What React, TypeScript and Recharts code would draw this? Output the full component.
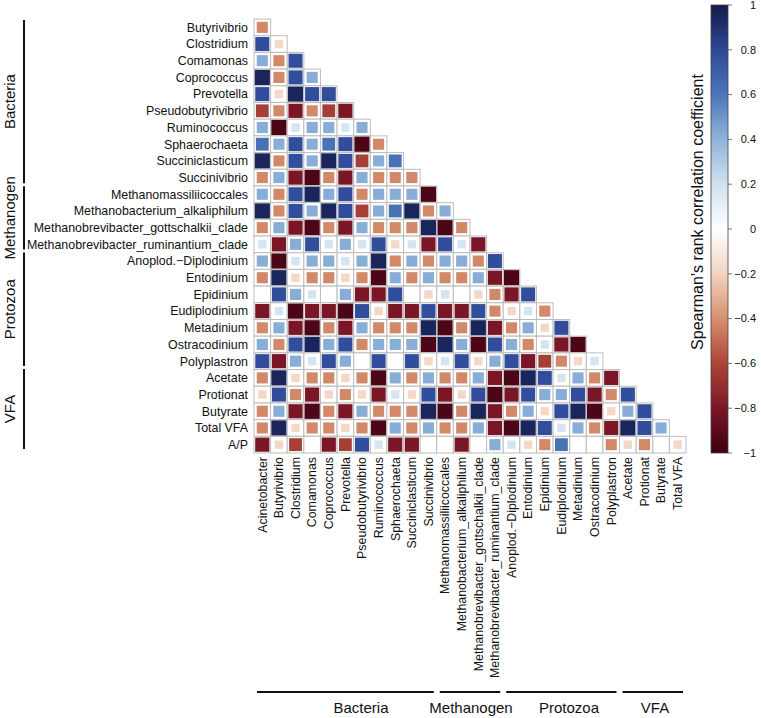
import { ScatterChart, Scatter, XAxis, YAxis } from "recharts"

const W = 761
const H = 718
const PLOT_LEFT = 254
const PLOT_RIGHT = 686
const PLOT_TOP = 19
const PLOT_BOTTOM = 453
const FONT = '"Liberation Sans", Arial, Helvetica, sans-serif'

// variables in matrix order (columns use 0..25, rows use 1..26)
const variables = [
  "Acinetobacter", "Butyrivibrio", "Clostridium", "Comamonas", "Coprococcus", "Prevotella",
  "Pseudobutyrivibrio", "Ruminococcus", "Sphaerochaeta", "Succiniclasticum", "Succinivibrio",
  "Methanomassiliicoccales", "Methanobacterium_alkaliphilum", "Methanobrevibacter_gottschalkii_clade",
  "Methanobrevibacter_ruminantium_clade", "Anoplod.\u2212Diplodinium", "Entodinium", "Epidinium",
  "Eudiplodinium", "Metadinium", "Ostracodinium", "Polyplastron", "Acetate", "Protionat",
  "Butyrate", "Total VFA", "A/P",
]

// lower triangle, one array per row (values against the columns to its left)
const rButyrivibrio = [-0.42]
const rClostridium = [0.78, -0.18]
const rComamonas = [0.42, -0.42, 0.78]
const rCoprococcus = [0.95, -0.42, 0.78, 0.42]
const rPrevotella = [0.78, -0.18, 0.95, 0.78, 0.78]
const rPseudobutyrivibrio = [-0.62, -0.42, -0.8, -0.42, -0.62, -0.8]
const rRuminococcus = [0.42, -0.95, 0.18, 0.42, 0.42, 0.18, 0.42]
const rSphaerochaeta = [0.62, 0.42, 0.78, 0.42, 0.62, 0.78, -0.95, -0.42]
const rSucciniclasticum = [0.95, -0.42, 0.78, 0.42, 0.95, 0.78, -0.62, 0.42, 0.62]
const rSuccinivibrio = [-0.42, 0.42, -0.8, -0.95, -0.42, -0.8, 0.42, -0.42, -0.42, -0.42]
const rMethanomass = [0.42, -0.42, 0.78, 0.95, 0.42, 0.78, -0.42, 0.42, 0.42, 0.42, -0.95]
const rMethanobact = [0.95, -0.42, 0.78, 0.42, 0.95, 0.78, -0.62, 0.42, 0.62, 0.95, -0.42, 0.42]
const rGottschalkii = [-0.42, 0.42, -0.8, -0.95, -0.42, -0.8, 0.42, -0.42, -0.42, -0.42, 0.95, -0.95, -0.42]
const rRuminantium = [0.18, -0.8, 0.42, 0.78, 0.18, 0.42, 0.18, 0.78, -0.18, 0.18, -0.8, 0.78, 0.18, -0.8]
const rAnoplod = [0.42, -0.95, 0.18, 0.42, 0.42, 0.18, 0.42, 0.95, -0.42, 0.42, -0.42, 0.42, 0.42, -0.42, 0.78]
const rEntodinium = [-0.42, 0.95, -0.18, -0.42, -0.42, -0.18, -0.42, -0.95, 0.42, -0.42, 0.42, -0.42, -0.42, 0.42, -0.8, -0.95]
const rEpidinium = [0, 0.78, 0.42, 0.18, 0, 0.42, -0.8, -0.8, 0.78, 0, -0.18, 0.18, 0, -0.18, -0.42, -0.8, 0.78]
const rEudiplodinium = [-0.8, 0.18, -0.95, -0.8, -0.8, -0.95, 0.78, -0.18, -0.8, -0.8, 0.78, -0.8, -0.8, 0.78, -0.42, -0.18, 0.18, -0.42]
const rMetadinium = [-0.42, 0.42, -0.8, -0.95, -0.42, -0.8, 0.42, -0.42, -0.42, -0.42, 0.95, -0.95, -0.42, 0.95, -0.8, -0.42, 0.42, -0.18, 0.78]
const rOstracodinium = [0.42, -0.42, 0.78, 0.95, 0.42, 0.78, -0.42, 0.42, 0.42, 0.42, -0.95, 0.95, 0.42, -0.95, 0.78, 0.42, -0.42, 0.18, -0.8, -0.95]
const rPolyplastron = [0.78, -0.8, 0.42, 0.18, 0.78, 0.42, 0, 0.78, 0, 0.78, -0.18, 0.18, 0.78, -0.18, 0.42, 0.78, -0.8, -0.62, -0.42, -0.18, 0.18]
const rAcetate = [-0.42, 0.95, -0.18, -0.42, -0.42, -0.18, -0.42, -0.95, 0.42, -0.42, 0.42, -0.42, -0.42, 0.42, -0.8, -0.95, 0.95, 0.78, 0.18, 0.42, -0.42, -0.8]
const rProtionat = [-0.18, 0.78, -0.42, -0.8, -0.18, -0.42, -0.18, -0.8, 0.18, -0.18, 0.78, -0.8, -0.18, 0.78, -0.95, -0.8, 0.78, 0.42, 0.42, 0.78, -0.8, -0.42, 0.78]
const rButyrate = [-0.42, 0.42, -0.8, -0.95, -0.42, -0.8, 0.42, -0.42, -0.42, -0.42, 0.95, -0.95, -0.42, 0.95, -0.8, -0.42, 0.42, -0.18, 0.78, 0.95, -0.95, -0.18, 0.42, 0.78]
const rTotalVFA = [-0.42, 0.95, -0.18, -0.42, -0.42, -0.18, -0.42, -0.95, 0.42, -0.42, 0.42, -0.42, -0.42, 0.42, -0.8, -0.95, 0.95, 0.78, 0.18, 0.42, -0.42, -0.8, 0.95, 0.78, 0.42]
const rAP = [-0.8, -0.18, -0.62, 0, -0.8, -0.62, 0.78, 0.18, -0.8, -0.8, 0, 0, -0.8, 0, 0.42, 0.18, -0.18, -0.42, 0.62, 0, 0, -0.42, -0.18, -0.42, 0, -0.18]

const rows = [
  rButyrivibrio, rClostridium, rComamonas, rCoprococcus, rPrevotella, rPseudobutyrivibrio,
  rRuminococcus, rSphaerochaeta, rSucciniclasticum, rSuccinivibrio, rMethanomass, rMethanobact,
  rGottschalkii, rRuminantium, rAnoplod, rEntodinium, rEpidinium, rEudiplodinium, rMetadinium,
  rOstracodinium, rPolyplastron, rAcetate, rProtionat, rButyrate, rTotalVFA, rAP,
]

const groupNames = ["Bacteria", "Methanogen", "Protozoa", "VFA"]
const groupRows = [[1, 10], [11, 14], [15, 21], [22, 26]]
const groupCols = [[0, 10], [11, 14], [15, 21], [22, 25]]
const legendTicks = [1, 0.8, 0.6, 0.4, 0.2, 0, -0.2, -0.4, -0.6, -0.8, -1]

const colorStops: [number, string][] = [
  [-1, "#3d0011"], [-0.8, "#7b1627"], [-0.6, "#ab4538"], [-0.4, "#d6906f"], [-0.2, "#f2d4c1"],
  [0, "#ffffff"], [0.2, "#d0e1ef"], [0.4, "#8fb3d9"], [0.6, "#4c77b8"], [0.8, "#2e4898"], [1, "#131b46"],
]

const hex = (h: string) => [1, 3, 5].map((i) => parseInt(h.slice(i, i + 2), 16))

function corrColor(r: number) {
  for (let k = 0; k < colorStops.length - 1; k++) {
    const [a, ca] = colorStops[k]
    const [b, cb] = colorStops[k + 1]
    if (r >= a && r <= b) {
      const t = (r - a) / (b - a)
      const A = hex(ca)
      const B = hex(cb)
      const c = A.map((v, i) => Math.round(v + (B[i] - v) * t))
      return `rgb(${c[0]},${c[1]},${c[2]})`
    }
  }
  return "#ffffff"
}

const cells = rows.flatMap((vals, ri) => vals.map((r, j) => ({ x: j, y: ri + 1, r })))

const cell = (PLOT_RIGHT - PLOT_LEFT) / 26

function CellShape(props: any) {
  const { cx, cy, payload } = props
  if (cx == null || cy == null) return null
  const a = Math.abs(payload.r)
  const side = a === 0 ? 0 : 3 + 12.5 * Math.sqrt(a)
  return (
    <g>
      <rect x={cx - cell / 2} y={cy - cell / 2} width={cell} height={cell} fill="#fff" stroke="#bdbdbd" strokeWidth={1} />
      {side > 0 && (
        <rect x={cx - side / 2} y={cy - side / 2} width={side} height={side} fill={corrColor(payload.r)} />
      )}
    </g>
  )
}

function RowTick(props: any) {
  const { x, y, payload } = props
  return (
    <text x={x} y={y} dy="0.35em" textAnchor="end" fontSize={12.4} fontFamily={FONT} fill="#111">
      {variables[payload.value]}
    </text>
  )
}

function ColTick(props: any) {
  const { x, y, payload } = props
  return (
    <text x={x} y={y} dy="0.35em" textAnchor="end" fontSize={12.4} fontFamily={FONT} fill="#111"
      transform={`rotate(-90 ${x} ${y})`}>
      {variables[payload.value]}
    </text>
  )
}

function Overlay() {
  const barX = 711
  const barW = 17
  const barTop = 5
  const barBottom = 453
  const vy = (v: number) => barBottom - ((v + 1) / 2) * (barBottom - barTop)
  const bottomLabelX = [361, 471, 569, 655]
  const titleY = 212
  return (
    <svg width={W} height={H} style={{ position: "absolute", left: 0, top: 0, pointerEvents: "none" }}>
      <defs>
        <linearGradient id="cbar" x1="0" y1="0" x2="0" y2="1">
          {colorStops.slice().reverse().map(([v, c]) => (
            <stop key={v} offset={(1 - v) / 2} stopColor={c} />
          ))}
        </linearGradient>
      </defs>
      {groupNames.map((g, k) => {
        const y0 = PLOT_TOP + (groupRows[k][0] - 1) * cell + 1
        const y1 = PLOT_TOP + groupRows[k][1] * cell - 2
        const x0 = PLOT_LEFT + groupCols[k][0] * cell + 3
        const x1 = PLOT_LEFT + (groupCols[k][1] + 1) * cell - 3
        return (
          <g key={g} fontFamily={FONT} fontSize={15} fill="#111">
            <line x1={24} x2={24} y1={y0} y2={y1} stroke="#111" strokeWidth={2} />
            <text x={10} y={(y0 + y1) / 2} textAnchor="middle" dominantBaseline="central"
              transform={`rotate(-90 10 ${(y0 + y1) / 2})`}>{g}</text>
            <line x1={x0} x2={x1} y1={692} y2={692} stroke="#111" strokeWidth={2} />
            <text x={bottomLabelX[k]} y={713} textAnchor="middle">{g}</text>
          </g>
        )
      })}
      <rect x={barX} y={barTop} width={barW} height={barBottom - barTop} fill="url(#cbar)" stroke="#444" strokeWidth={0.8} />
      {legendTicks.map((v) => (
        <g key={v}>
          <line x1={barX + barW} x2={barX + barW + 4} y1={vy(v)} y2={vy(v)} stroke="#555" strokeWidth={0.8} />
          <text x={756} y={vy(v)} dy="0.35em" textAnchor="end" fontSize={11} fontFamily={FONT} fill="#111">
            {v < 0 ? "\u2212" + Math.abs(v) : String(v)}
          </text>
        </g>
      ))}
      <text x={697} y={titleY} textAnchor="middle" dominantBaseline="central" fontSize={16}
        fontFamily={FONT} fill="#111" transform={`rotate(-90 697 ${titleY})`}>
        Spearman's rank correlation coefficient
      </text>
    </svg>
  )
}

export default function App() {
  return (
    <div style={{ position: "absolute", left: 0, top: 0, width: W, height: H, background: "#fff" }}>
      <ScatterChart width={W} height={H} margin={{ top: PLOT_TOP, right: W - PLOT_RIGHT, bottom: 0, left: 0 }}>
        <XAxis type="number" dataKey="x" domain={[-0.5, 25.5]} ticks={Array.from({ length: 26 }, (_, i) => i)}
          interval={0} height={H - PLOT_BOTTOM} axisLine={false} tickLine={false} tickSize={2} tickMargin={2}
          tick={<ColTick />} />
        <YAxis type="number" dataKey="y" domain={[0.5, 26.5]} reversed ticks={Array.from({ length: 26 }, (_, i) => i + 1)}
          interval={0} width={PLOT_LEFT} axisLine={false} tickLine={false} tickSize={4} tickMargin={2}
          tick={<RowTick />} />
        <Scatter data={cells} shape={<CellShape />} isAnimationActive={false} />
      </ScatterChart>
      <Overlay />
    </div>
  )
}
